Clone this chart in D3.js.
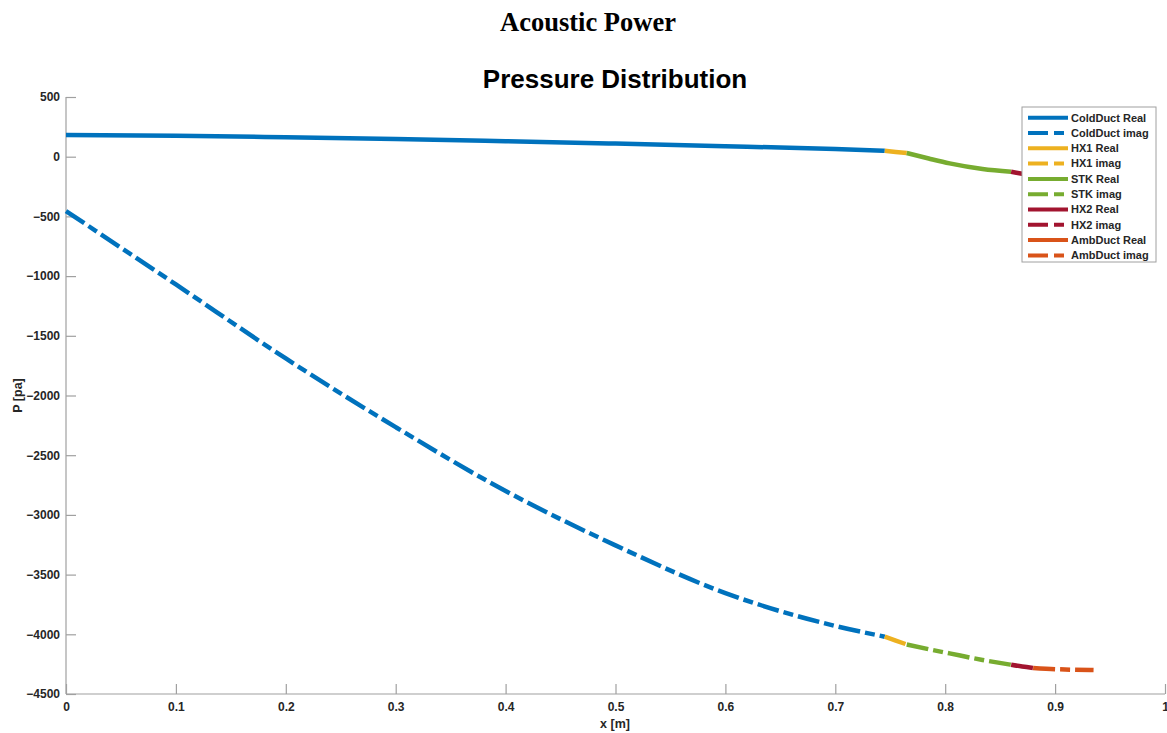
<!DOCTYPE html>
<html>
<head>
<meta charset="utf-8">
<script src="https://cdn.jsdelivr.net/npm/d3@7"></script>
<style>
  html, body { margin: 0; padding: 0; background: #fff; }
  svg { display: block; }
</style>
</head>
<body>
<svg id="chart" width="1167" height="733"></svg>
<script>
// ---------------- DATA ----------------
const xTicks = [0, 0.1, 0.2, 0.3, 0.4, 0.5, 0.6, 0.7, 0.8, 0.9, 1];
const yTicks = [500, 0, -500, -1000, -1500, -2000, -2500, -3000, -3500, -4000, -4500];

const segmentNames = ["ColdDuct", "HX1", "STK", "HX2", "AmbDuct"];
const segmentColors = ["#0072BD", "#EDB120", "#77AC30", "#A2142F", "#D95319"];

const coldX  = [0, 0.1, 0.2, 0.3, 0.4, 0.5, 0.6, 0.7, 0.745];
const coldRe = [182, 175, 163, 148, 130, 110, 88, 64, 50];
const coldIm = [-455, -1070, -1690, -2265, -2800, -3255, -3655, -3930, -4020];

const hx1X  = [0.745, 0.755, 0.765];
const hx1Re = [50, 40, 31];
const hx1Im = [-4020, -4052, -4085];

const stkX  = [0.765, 0.785, 0.804, 0.834, 0.86];
const stkRe = [31, -15, -56, -103, -126];
const stkIm = [-4085, -4125, -4160, -4215, -4255];

const hx2X  = [0.86, 0.87, 0.88];
const hx2Re = [-126, -143, -160];
const hx2Im = [-4255, -4270, -4282];

const ambX  = [0.88, 0.9, 0.935];
const ambRe = [-160, -175, -205];
const ambIm = [-4282, -4292, -4300];

const segX  = [coldX, hx1X, stkX, hx2X, ambX];
const segRe = [coldRe, hx1Re, stkRe, hx2Re, ambRe];
const segIm = [coldIm, hx1Im, stkIm, hx2Im, ambIm];

// ---------------- LAYOUT ----------------
const svg = d3.select("#chart");
const L = 66, R = 1165, T = 97, B = 694;
const x = d3.scaleLinear().domain([0, 1]).range([L, R]);
const y = d3.scaleLinear().domain([-4500, 500]).range([B, T]);
const axisColor = "#a0a0a0";
const textColor = "#262626";
const dashPattern = "22,5,10,5";
const sans = "Liberation Sans, Arial, sans-serif";

// Titles
svg.append("text").attr("x", 588).attr("y", 31).attr("text-anchor", "middle")
  .attr("font-family", "Liberation Serif, Times New Roman, serif").attr("font-weight", "bold")
  .attr("font-size", 26.5).attr("fill", "#000").text("Acoustic Power");
svg.append("text").attr("x", 615).attr("y", 88).attr("text-anchor", "middle")
  .attr("font-family", sans).attr("font-weight", "bold")
  .attr("font-size", 26).attr("fill", "#000").text("Pressure Distribution");

// Axes
const xAxis = d3.axisBottom(x).tickValues(xTicks).tickSize(-10).tickPadding(8)
  .tickFormat(d => d3.format("~g")(d));
const gx = svg.append("g").attr("transform", `translate(0,${B})`).call(xAxis);
const yAxis = d3.axisLeft(y).tickValues(yTicks).tickSize(-10).tickPadding(6)
  .tickFormat(d => d3.format("d")(d));
const gy = svg.append("g").attr("transform", `translate(${L},0)`).call(yAxis);

[gx, gy].forEach(g => {
  g.select(".domain").attr("stroke", axisColor).attr("stroke-width", 1.2);
  g.selectAll(".tick line").attr("stroke", axisColor).attr("stroke-width", 1.2);
  g.selectAll(".tick text").attr("fill", textColor)
    .attr("font-family", sans)
    .attr("font-weight", "bold").attr("font-size", 12);
});
gy.select(".domain").attr("d", `M0,${B}V${T}`);
gx.select(".domain").attr("d", `M${L},0H${R}`);

// Axis labels
svg.append("text").attr("x", 615).attr("y", 728).attr("text-anchor", "middle")
  .attr("font-family", sans).attr("font-weight", "bold")
  .attr("font-size", 12.5).attr("fill", textColor).text("x [m]");
svg.append("text").attr("transform", `translate(22,${(T + B) / 2}) rotate(-90)`)
  .attr("text-anchor", "middle")
  .attr("font-family", sans).attr("font-weight", "bold")
  .attr("font-size", 12.5).attr("fill", textColor).text("P [pa]");

// Lines
const line = d3.line().x(d => x(d[0])).y(d => y(d[1])).curve(d3.curveMonotoneX);
const gLines = svg.append("g");
segmentNames.forEach((name, i) => {
  const re = segX[i].map((v, k) => [v, segRe[i][k]]);
  const im = segX[i].map((v, k) => [v, segIm[i][k]]);
  gLines.append("path").attr("d", line(re)).attr("fill", "none")
    .attr("stroke", segmentColors[i]).attr("stroke-width", 4.5);
  gLines.append("path").attr("d", line(im)).attr("fill", "none")
    .attr("stroke", segmentColors[i]).attr("stroke-width", 4.5)
    .attr("stroke-dasharray", dashPattern);
});

// Legend
const lgX = 1022, lgY = 107, lgW = 134, lgH = 155;
const lg = svg.append("g");
lg.append("rect").attr("x", lgX).attr("y", lgY).attr("width", lgW).attr("height", lgH)
  .attr("fill", "#fff").attr("stroke", "#a0a0a0").attr("stroke-width", 1);
const legendItems = [];
segmentNames.forEach((n, i) => {
  legendItems.push({ label: n + " Real", color: segmentColors[i], dash: null });
  legendItems.push({ label: n + " imag", color: segmentColors[i], dash: "20,6,10,6" });
});
legendItems.forEach((it, i) => {
  const yy = 117.7 + i * 15.3;
  lg.append("line").attr("x1", 1028).attr("x2", 1068).attr("y1", yy).attr("y2", yy)
    .attr("stroke", it.color).attr("stroke-width", 4)
    .attr("stroke-dasharray", it.dash);
  lg.append("text").attr("x", 1071).attr("y", yy).attr("dy", "0.35em")
    .attr("font-family", sans).attr("font-weight", "bold")
    .attr("font-size", 11).attr("fill", textColor).text(it.label);
});
</script>
</body>
</html>
